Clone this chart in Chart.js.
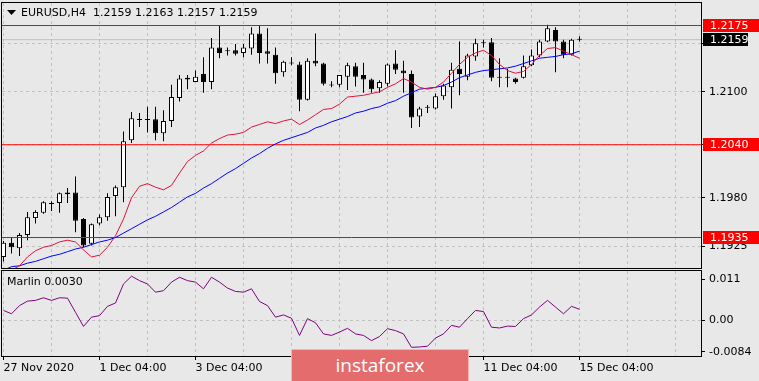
<!DOCTYPE html>
<html><head><meta charset="utf-8">
<script src="https://cdn.jsdelivr.net/npm/chart.js@4/dist/chart.umd.min.js"></script>
<style>
html,body{margin:0;padding:0;background:#e8e8e8;}
#wrap{position:relative;width:759px;height:381px;overflow:hidden;background:#e8e8e8;}
#c1{position:absolute;left:0;top:0;}
#c2{position:absolute;left:0;top:270px;}
#wm{position:absolute;left:291px;top:349px;width:176px;height:34px;background:#e46c6c;border:1px solid #f3b4b4;color:#fff;font-family:'Open Sans',sans-serif;font-size:19px;text-align:center;line-height:30px;}
</style></head>
<body>
<div id="wrap">
<canvas id="c1" width="759" height="270"></canvas>
<canvas id="c2" width="759" height="111"></canvas>
<div id="wm">instaforex</div>
</div>
<script>
// ---------- DATA ----------
const symbol = 'EURUSD,H4';
const open = [1.1913,1.1929,1.1923,1.1938,1.1957,1.1963,1.1974,1.1974,1.1984,1.1986,
1.1956,1.1928,1.1951,1.1958,1.1982,1.1992,1.2045,1.2068,1.2069,1.2069,
1.2053,1.2067,1.2093,1.2116,1.2111,1.2120,1.2111,1.2150,1.2147,1.2147,
1.2144,1.2149,1.2166,1.2146,1.2142,1.2122,1.2133,1.2131,1.2091,1.2135,
1.2132,1.2108,1.2108,1.2117,1.2129,1.2119,1.2114,1.2104,1.2109,1.2132,
1.2124,1.2120,1.2072,1.2082,1.2081,1.2095,1.2105,1.2126,1.2117,1.2140,
1.2155,1.2156,1.2116,1.2116,1.2115,1.2116,1.2130,1.2141,1.2157,1.2170,
1.2157,1.2142,1.2159];
const high = [1.1931,1.1935,1.1940,1.1964,1.1966,1.1976,1.1976,1.1986,1.1991,1.2004,
1.1957,1.1951,1.1961,1.1985,1.1994,1.2055,1.2077,1.2076,1.2083,1.2083,
1.2079,1.2108,1.2119,1.2119,1.2124,1.2139,1.2161,1.2175,1.2150,1.2154,
1.2154,1.2173,1.2175,1.2172,1.2150,1.2135,1.2139,1.2134,1.2138,1.2166,
1.2133,1.2112,1.2119,1.2133,1.2133,1.2133,1.2115,1.2113,1.2132,1.2147,
1.2135,1.2124,1.2083,1.2085,1.2098,1.2109,1.2133,1.2157,1.2143,1.2160,
1.2159,1.2161,1.2138,1.2126,1.2116,1.2141,1.2148,1.2159,1.2176,1.2173,
1.2159,1.2160,1.2163];
const low = [1.1908,1.1917,1.1914,1.1932,1.1951,1.1962,1.1965,1.1963,1.1974,1.1941,
1.1924,1.1926,1.1949,1.1954,1.1959,1.1975,1.2042,1.2060,1.2054,1.2045,
1.2044,1.2060,1.2089,1.2103,1.2111,1.2099,1.2103,1.2138,1.2141,1.2141,
1.2139,1.2142,1.2132,1.2132,1.2109,1.2117,1.2130,1.2078,1.2090,1.2129,
1.2107,1.2105,1.2105,1.2102,1.2106,1.2099,1.2099,1.2099,1.2106,1.2120,
1.2099,1.2059,1.2060,1.2076,1.2080,1.2091,1.2081,1.2096,1.2113,1.2135,
1.2150,1.2112,1.2105,1.2105,1.2109,1.2115,1.2129,1.2139,1.2156,1.2122,
1.2138,1.2141,1.2157];
const close = [1.1929,1.1924,1.1938,1.1958,1.1964,1.1975,1.1973,1.1985,1.1986,1.1954,
1.1926,1.1950,1.1958,1.1981,1.1992,1.2044,1.2070,1.2069,1.2068,1.2053,
1.2067,1.2094,1.2115,1.2114,1.2117,1.2111,1.2150,1.2144,1.2146,1.2143,
1.2150,1.2166,1.2144,1.2143,1.2121,1.2134,1.2132,1.2091,1.2135,1.2132,
1.2109,1.2107,1.2119,1.2130,1.2117,1.2114,1.2103,1.2111,1.2131,1.2125,
1.2121,1.2071,1.2081,1.2082,1.2095,1.2107,1.2125,1.2120,1.2141,1.2155,
1.2155,1.2116,1.2116,1.2116,1.2111,1.2129,1.2141,1.2157,1.2172,1.2157,
1.2142,1.2159,1.2159];
const redMA = [1.1893,1.1898,1.1903,1.1913,1.1920,1.1924,1.1926,1.1930,1.1932,1.1930,
1.1921,1.1913,1.1915,1.1924,1.1937,1.1956,1.1980,1.1993,1.1996,1.1992,
1.1989,1.1994,1.2008,1.2021,1.2028,1.2033,1.2042,1.2047,1.2051,1.2052,
1.2054,1.2060,1.2063,1.2066,1.2064,1.2067,1.2069,1.2063,1.2068,1.2074,
1.2080,1.2081,1.2086,1.2094,1.2095,1.2096,1.2098,1.2100,1.2105,1.2109,
1.2115,1.2111,1.2105,1.2103,1.2105,1.2111,1.2121,1.2131,1.2139,1.2144,
1.2147,1.2141,1.2131,1.2124,1.2121,1.2123,1.2131,1.2141,1.2149,1.2150,
1.2146,1.2142,1.2138];
const blueMA = [1.1898,1.1902,1.1903,1.1906,1.1908,1.1911,1.1914,1.1916,1.1919,1.1922,
1.1924,1.1927,1.1930,1.1932,1.1935,1.1940,1.1945,1.1950,1.1955,1.1959,
1.1964,1.1969,1.1975,1.1981,1.1985,1.1991,1.1996,1.2002,1.2008,1.2013,
1.2019,1.2025,1.2030,1.2036,1.2041,1.2045,1.2048,1.2051,1.2054,1.2059,
1.2062,1.2066,1.2069,1.2072,1.2076,1.2078,1.2081,1.2083,1.2087,1.2090,
1.2095,1.2099,1.2103,1.2104,1.2105,1.2107,1.2111,1.2116,1.2119,1.2122,
1.2124,1.2125,1.2126,1.2127,1.2129,1.2132,1.2135,1.2138,1.2139,1.2140,
1.2142,1.2143,1.2146];
const marlin = [0.0027,0.0018,0.0040,0.0052,0.0054,0.0061,0.0054,0.0061,0.0060,0.0022,
-0.0016,0.0009,0.0013,0.0038,0.0047,0.0098,0.0119,0.0107,0.0098,0.0076,
0.0080,0.0103,0.0116,0.0107,0.0103,0.0085,0.0116,0.0103,0.0087,0.0078,
0.0076,0.0085,0.0051,0.0040,0.0009,0.0015,0.0006,-0.0040,0.0005,-0.0006,
-0.0036,-0.0040,-0.0031,-0.0021,-0.0036,-0.0040,-0.0054,-0.0043,-0.0022,-0.0027,
-0.0036,-0.0072,-0.0071,-0.0069,-0.0047,-0.0036,-0.0013,-0.0018,0.0005,0.0027,
0.0024,-0.0018,-0.0020,-0.0015,-0.0016,0.0005,0.0015,0.0036,0.0054,0.0036,
0.0018,0.0038,0.0030];
const levels = [1.2175, 1.2040, 1.1935];
const bid = 1.2159;
const priceTicks = [1.2155, 1.2100, 1.2040, 1.1980, 1.1925];
const marlinTicks = [0.011, 0, -0.0084];
const marlinTickLabels = ['0.011', '0.00', '-0.0084'];
const gridBars = [0,6,12,18,24,30,36,42,48,54,60,66,72,78,84];
const dateTickBars = [0,12,24,36,48,60,72];
const dateTickLabels = ['27 Nov 2020','1 Dec 04:00','3 Dec 04:00','7 Dec 04:00','9 Dec 04:00','11 Dec 04:00','15 Dec 04:00'];

// ---------- LAYOUT / STYLE ----------
const xMin = -0.1875, xMax = 87.1875;
const yMin = 1.19005, yMax = 1.22005;
const mMin = -0.009525, mMax = 0.013282;
const GRID = '#c2c2c2';
const FAM = "'DejaVu Sans'";
const FONT = "11px 'DejaVu Sans'";
Chart.defaults.font.family = FAM;
Chart.defaults.font.size = 11;
Chart.defaults.color = '#000';

const bars = open.map((_, i) => i);

const paneBorder = {
  id: 'paneBorder',
  afterDraw(chart) {
    const a = chart.chartArea, c = chart.ctx;
    c.save(); c.strokeStyle = '#000'; c.lineWidth = 1;
    c.strokeRect(a.left - 0.5, a.top - 0.5, a.right - a.left + 1, a.bottom - a.top + 1);
    c.restore();
  }
};

const priceDecor = {
  id: 'priceDecor',
  afterDraw(chart) {
    const c = chart.ctx, ys = chart.scales.y;
    c.save();
    c.font = FONT; c.textBaseline = 'middle'; c.textAlign = 'left';
    levels.forEach(lv => {
      const py = ys.getPixelForValue(lv);
      const t = Math.round(py - 6.5);
      c.fillStyle = '#ff0000'; c.fillRect(703, t, 56, 13);
      c.fillStyle = '#ffffff'; c.fillText(lv.toFixed(4), 710, t + 7);
    });
    const pb = ys.getPixelForValue(bid);
    const tb = Math.round(pb - 6.5);
    c.fillStyle = '#000'; c.fillRect(703, tb, 45, 13);
    c.fillStyle = '#fff'; c.fillText(bid.toFixed(4), 710, tb + 7);
    // title
    c.fillStyle = '#000';
    c.beginPath(); c.moveTo(7, 10); c.lineTo(16, 10); c.lineTo(11.5, 15); c.closePath(); c.fill();
    const L = open.length - 1;
    c.fillText(symbol, 21, 13);
    c.fillText([open[L], high[L], low[L], close[L]].map(v => v.toFixed(4)).join(' '), 93, 13);
    c.restore();
  }
};

const marlinDecor = {
  id: 'marlinDecor',
  afterDraw(chart) {
    const c = chart.ctx;
    c.save(); c.font = FONT; c.fillStyle = '#000'; c.textBaseline = 'middle';
    c.fillText('Marlin ' + marlin[marlin.length - 1].toFixed(4), 7, 12);
    c.restore();
  }
};

const baseOpts = {
  responsive: false, animation: false, devicePixelRatio: 1, events: [],
  plugins: { legend: { display: false }, tooltip: { enabled: false } }
};

const lineDs = (data, color, order) => ({
  type: 'line', data, borderColor: color, borderWidth: 1, pointRadius: 0, order, tension: 0
});

// ---------- PRICE CHART ----------
new Chart(document.getElementById('c1'), {
  type: 'bar',
  data: { datasets: [
    lineDs([{x: xMin, y: bid}, {x: xMax, y: bid}], '#c0c0c0', 10),
    { type: 'bar', data: bars.map(i => ({x: i, y: [low[i], high[i]]})), backgroundColor: '#000',
      borderWidth: 0, barThickness: 1, grouped: false, order: 9, inflateAmount: 0 },
    { type: 'bar', data: bars.map(i => ({x: i, y: [open[i], close[i]]})),
      backgroundColor: bars.map(i => close[i] > open[i] ? '#ffffff' : '#000000'),
      borderColor: '#000', borderWidth: 1, borderSkipped: false, barThickness: 5,
      grouped: false, minBarLength: 1, order: 8, inflateAmount: 0 },
    ...levels.map(lv => lineDs([{x: xMin, y: lv}, {x: xMax, y: lv}], '#ff0000', 7)),
    lineDs(bars.map(i => ({x: i, y: blueMA[i]})), '#0000ff', 6),
    lineDs(bars.map(i => ({x: i, y: redMA[i]})), '#dc143c', 5)
  ]},
  options: Object.assign({}, baseOpts, {
    layout: { padding: { left: 2, top: 3, right: 0, bottom: 2 } },
    scales: {
      x: { type: 'linear', min: xMin, max: xMax, offset: false,
        afterBuildTicks: s => { s.ticks = gridBars.map(v => ({value: v})); },
        afterFit: s => { s.height = 0; s.paddingLeft = 0; s.paddingRight = 0; },
        ticks: { display: false },
        grid: { color: GRID, drawTicks: false, offset: false, borderDash: [3, 3] },
        border: { display: false, dash: [3, 3] } },
      y: { type: 'linear', position: 'right', min: yMin, max: yMax,
        afterBuildTicks: s => { s.ticks = priceTicks.map(v => ({value: v})); },
        afterFit: s => { s.width = 58; s.paddingTop = 0; s.paddingBottom = 0; },
        ticks: { color: '#000', padding: 4, font: { family: FAM, size: 11 }, callback: v => Number(v).toFixed(4) },
        grid: { color: GRID, tickColor: '#000', tickLength: 4, tickBorderDash: [4, 0], borderDash: [3, 3] },
        border: { display: false, dash: [3, 3] } }
    }
  }),
  plugins: [paneBorder, priceDecor]
});

// ---------- MARLIN CHART ----------
new Chart(document.getElementById('c2'), {
  type: 'line',
  data: { datasets: [ lineDs(bars.map(i => ({x: i, y: marlin[i]})), '#800080', 1) ] },
  options: Object.assign({}, baseOpts, {
    layout: { padding: { left: 2, top: 1, right: 0, bottom: 0 } },
    scales: {
      x: { type: 'linear', min: xMin, max: xMax, offset: false,
        afterBuildTicks: s => { s.ticks = gridBars.map(v => ({value: v})); },
        afterFit: s => { s.height = 25; s.paddingLeft = 0; s.paddingRight = 0; },
        ticks: { color: '#000', autoSkip: false, maxRotation: 0, minRotation: 0, align: 'start', padding: 2,
          font: { family: FAM, size: 11 },
          callback: v => { const k = dateTickBars.indexOf(v); return k >= 0 ? dateTickLabels[k] : ''; } },
        grid: { color: GRID, offset: false, tickLength: 4, tickBorderDash: [4, 0], borderDash: [3, 3],
          tickColor: ctx => (ctx.tick && dateTickBars.includes(ctx.tick.value)) ? '#000' : 'rgba(0,0,0,0)' },
        border: { display: false, dash: [3, 3] } },
      y: { type: 'linear', position: 'right', min: mMin, max: mMax,
        afterBuildTicks: s => { s.ticks = marlinTicks.map(v => ({value: v})); },
        afterFit: s => { s.width = 58; s.paddingTop = 0; s.paddingBottom = 0; },
        ticks: { color: '#000', padding: 4, font: { family: FAM, size: 11 },
          callback: v => { const k = marlinTicks.indexOf(v); return k >= 0 ? marlinTickLabels[k] : ''; } },
        grid: { color: ctx => (ctx.tick && ctx.tick.value === 0) ? GRID : 'rgba(0,0,0,0)',
          tickColor: '#000', tickLength: 4, tickBorderDash: [4, 0], borderDash: [3, 3] },
        border: { display: false, dash: [3, 3] } }
    }
  }),
  plugins: [paneBorder, marlinDecor]
});
</script>
</body></html>
